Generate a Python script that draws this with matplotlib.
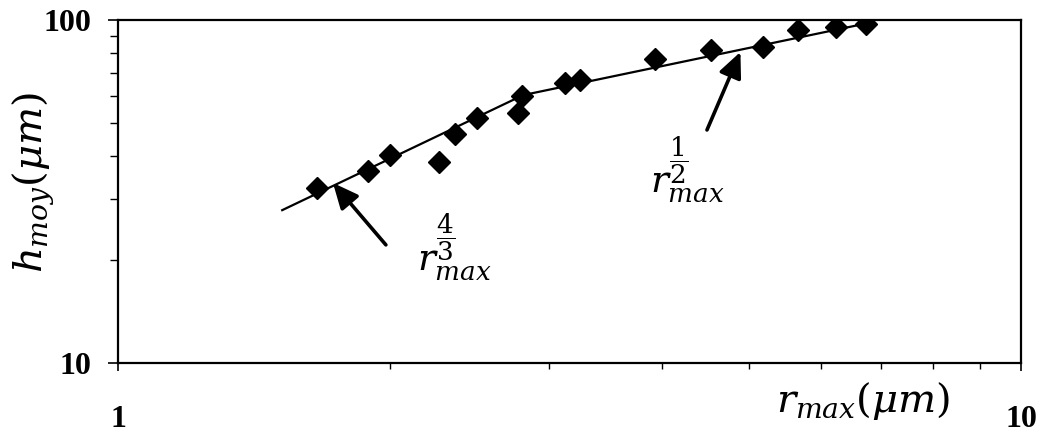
#!/usr/bin/env python3

import matplotlib
matplotlib.use('Agg')
import matplotlib.pyplot as plt
from matplotlib.font_manager import FontProperties
from matplotlib.ticker import FixedLocator, NullFormatter, FixedFormatter, LogLocator


# Datos (r_max en µm, h_moy en µm)
r_max = [1.66, 1.89, 2.00, 2.27, 2.36, 2.50, 2.77, 2.80, 3.13, 3.25,
         3.93, 4.54, 5.18, 5.66, 6.24, 6.74]
h_moy = [32.4, 36.3, 40.4, 38.5, 46.5, 51.8, 53.6, 60.0, 65.5, 66.8,
         76.9, 81.7, 83.4, 93.5, 95.4, 97.4]

# Ajuste en dos tramos (pendientes 4/3 y 1/2)
fit_x = [1.52, 2.81, 6.75]
fit_y = [27.9, 60.4, 97.8]

# Flechas: (punta, cola)
flecha_43 = ((1.73, 33.5), (1.98, 22.1))
flecha_12 = ((4.89, 80.7), (4.49, 47.8))

plt.rcParams['mathtext.fontset'] = 'dejavuserif'

fig = plt.figure(figsize=(10.43, 4.41), dpi=100)
ax = fig.add_axes([118 / 1043, 1 - 363 / 441, 903 / 1043, 343 / 441])

ax.plot(fit_x, fit_y, color='black', lw=1.6, zorder=2)
ax.plot(r_max, h_moy, 'D', color='black', ms=11, zorder=3)

ax.set_xscale('log')
ax.set_yscale('log')
ax.set_xlim(1, 10)
ax.set_ylim(10, 100)

ax.xaxis.set_major_locator(FixedLocator([1, 10]))
ax.xaxis.set_major_formatter(FixedFormatter(['1', '10']))
ax.yaxis.set_major_locator(FixedLocator([10, 100]))
ax.yaxis.set_major_formatter(FixedFormatter(['10', '100']))
ax.xaxis.set_minor_locator(LogLocator(base=10, subs=range(2, 10)))
ax.yaxis.set_minor_locator(LogLocator(base=10, subs=range(2, 10)))
ax.xaxis.set_minor_formatter(NullFormatter())
ax.yaxis.set_minor_formatter(NullFormatter())
fp = FontProperties(family='Liberation Serif', weight='bold', size=23)
for lab in ax.get_xticklabels() + ax.get_yticklabels():
    lab.set_fontproperties(fp)

ax.tick_params(axis='x', which='major', direction='inout', length=12, width=1.2, pad=24)
ax.tick_params(axis='y', which='major', direction='out', length=7, width=1.2, pad=12)
ax.tick_params(axis='y', which='minor', direction='out', length=6, width=1.0)
ax.tick_params(axis='x', which='minor', direction='out', length=4, width=1.0)

for s in ax.spines.values():
    s.set_linewidth(1.6)

ax.set_xlabel(r'$r_{max}(\mu m)$', fontsize=29)
ax.xaxis.set_label_coords(0.825, -0.05)
ax.set_ylabel(r'$h_{moy}(\mu m)$', fontsize=29)
ax.yaxis.set_label_coords(-0.069, 0.525)

# Flechas y exponentes
estilo = '-|>,head_length=0.55,head_width=0.25'
for punta, cola in (flecha_43, flecha_12):
    ax.annotate('', xy=punta, xytext=cola,
                arrowprops=dict(arrowstyle=estilo, lw=2.6, color='black',
                                mutation_scale=28, shrinkA=0, shrinkB=0))
ax.text(0.331, 0.271, r'$r_{max}^{\dfrac{4}{3}}$', transform=ax.transAxes,
        fontsize=27, ha='left', va='baseline')
ax.text(0.589, 0.496, r'$r_{max}^{\dfrac{1}{2}}$', transform=ax.transAxes,
        fontsize=27, ha='left', va='baseline')

plt.savefig('out.png', dpi=100)
